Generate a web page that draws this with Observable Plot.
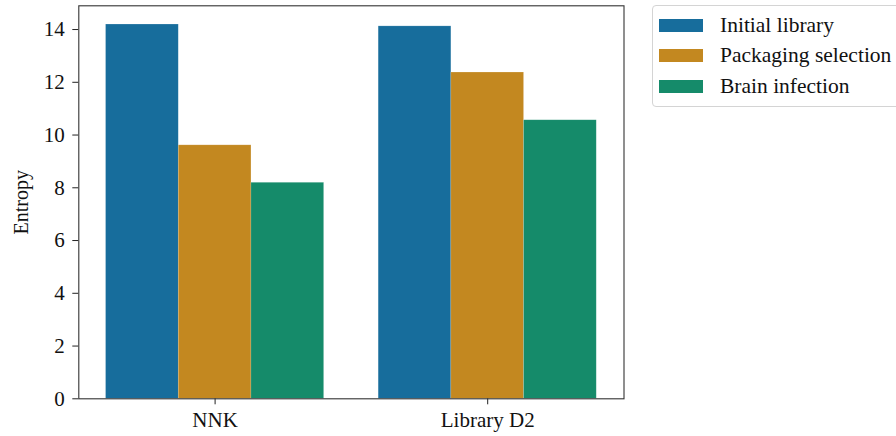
<!DOCTYPE html>
<html>
<head>
<meta charset="utf-8">
<script src="https://cdn.jsdelivr.net/npm/d3@7"></script>
<script src="https://cdn.jsdelivr.net/npm/@observablehq/plot@0.6"></script>
<style>
  html, body { margin: 0; padding: 0; background: #fff; overflow: hidden; }
  #wrap { position: relative; width: 896px; height: 436px; }
  #wrap, #wrap * { font-family: "Liberation Serif", "Times New Roman", Times, "DejaVu Serif", serif !important; }
  #legend { position: absolute; left: 652px; top: 5px; width: 260px; height: 102px; border: 1px solid #d4d4d4; border-radius: 4px; box-sizing: border-box; background: #fff; }
  .item { position: absolute; left: 6px; height: 30px; display: flex; align-items: center; font-size: 21.5px; color: #111; white-space: nowrap; }
  .swatch { width: 44px; height: 13px; margin-right: 17px; }
</style>
</head>
<body>
<div id="wrap"><div id="chart"></div><div id="legend"></div></div>
<script>
const categories = ["NNK", "Library D2"];
const series = ["Initial library", "Packaging selection", "Brain infection"];
const initialLibrary = [14.19, 14.12];
const packagingSelection = [9.61, 12.37];
const brainInfection = [8.19, 10.56];
const colors = ["#176d9c", "#c38820", "#158b6a"];
const yTicks = [0, 2, 4, 6, 8, 10, 12, 14];

const values = [initialLibrary, packagingSelection, brainInfection];
const groupWidth = 0.8;
const barW = groupWidth / series.length;
const data = [];
categories.forEach((c, i) => {
  series.forEach((s, j) => {
    const x1 = i - groupWidth / 2 + j * barW;
    data.push({category: c, series: s, value: values[j][i], x1, x2: x1 + barW});
  });
});

const FONT = "'Liberation Serif', 'Times New Roman', Times, 'DejaVu Serif', serif";
const chart = Plot.plot({
  width: 896,
  height: 436,
  marginLeft: 78.3,
  marginRight: 272.5,
  marginTop: 5.3,
  marginBottom: 37.7,
  style: {fontFamily: FONT, fontSize: "21px", color: "#111", background: "#fff"},
  x: {domain: [-0.5, 1.5]},
  y: {domain: [0, 14.9]},
  color: {domain: series, range: colors},
  marks: [
    Plot.rectY(data, {x1: "x1", x2: "x2", y: "value", fill: "series", stroke: "#ffffff", strokeOpacity: 0.25, strokeWidth: 0.6}),
    Plot.axisX({ticks: [0, 1], tickFormat: i => categories[i], tickSize: 6, tickPadding: 7, label: null, fontSize: 21, stroke: "#222"}),
    Plot.axisY({ticks: yTicks, tickSize: 6, tickPadding: 8, label: null, fontSize: 21, stroke: "#222"}),
    Plot.text(["Entropy"], {frameAnchor: "left", dx: -57, rotate: -90, textAnchor: "middle", lineAnchor: "middle", fontSize: 20, fill: "#111"}),
    Plot.frame({stroke: "#333", strokeWidth: 1.1})
  ]
});
document.getElementById("chart").appendChild(chart);

const legend = document.getElementById("legend");
series.forEach((s, j) => {
  const item = document.createElement("div");
  item.className = "item";
  item.style.top = (4 + j * 30.5) + "px";
  const sw = document.createElement("div");
  sw.className = "swatch";
  sw.style.background = colors[j];
  const label = document.createElement("span");
  label.textContent = s;
  item.appendChild(sw);
  item.appendChild(label);
  legend.appendChild(item);
});
</script>
</body>
</html>
